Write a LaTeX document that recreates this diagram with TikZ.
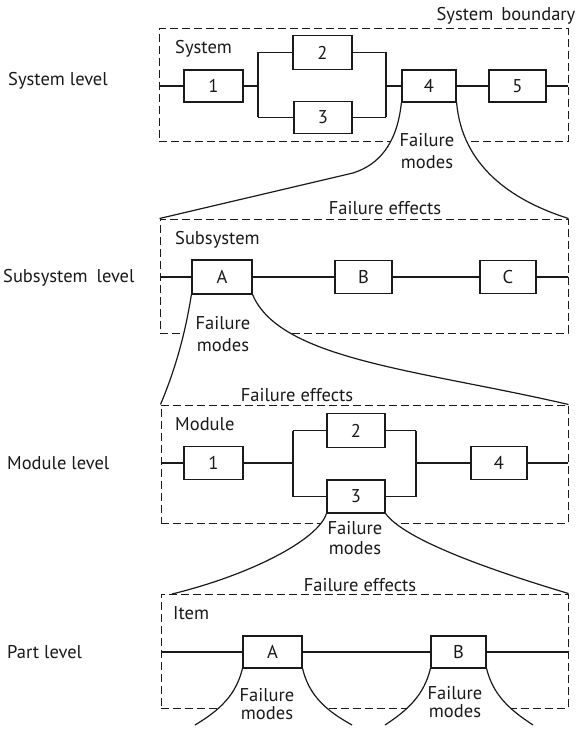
\documentclass[tikz,border=0pt]{standalone}
\usepackage{fontspec}
\setmainfont{PT Sans}
\newcommand\lblfont{\fontsize{18.5}{21}\selectfont}
\definecolor{ink}{HTML}{1A1A1A}
\begin{document}
\begin{tikzpicture}[x=1pt,y=-1pt,
  wire/.style={draw=ink,line width=1.2pt},
  blk/.style={draw=ink,line width=1.2pt,fill=white,inner sep=0pt,font=\lblfont,text=ink},
  bnd/.style={draw=ink,line width=1pt,dash pattern=on 8pt off 4pt,inner sep=0pt},
  lbl/.style={inner sep=0pt,font=\lblfont,text=ink},
  fm/.style={lbl,align=center},
  crv/.style={draw=ink,line width=1.2pt}]
\useasboundingbox (0,0) rectangle (585,738);
\fill[white] (0,0) rectangle (585,738);

% ---------- boundaries ----------
\node[bnd,minimum width=409pt,minimum height=113pt] (sysB) at (363.5,85.5) {};
\node[bnd,minimum width=408pt,minimum height=114pt] (subB) at (364,276) {};
\node[bnd,minimum width=407pt,minimum height=118pt] (modB) at (364.5,464) {};
\node[bnd,minimum width=407pt,minimum height=114pt] (partB) at (364.5,651) {};

% ---------- system level ----------
\node[blk,minimum width=59pt,minimum height=32pt] (b1) at (213.5,86) {1};
\node[blk,minimum width=59pt,minimum height=34pt] (b2) at (322.5,52.5) {2};
\node[blk,minimum width=58pt,minimum height=32pt] (b3) at (323,117.5) {3};
\node[blk,minimum width=54pt,minimum height=32pt] (b4) at (429,86) {4};
\node[blk,minimum width=57pt,minimum height=32pt] (b5) at (517.5,86) {5};
\coordinate (sL) at (159,86);
\coordinate (sR) at (568,86);
\coordinate (sjl) at (258,86);
\coordinate (sja) at (258,52.5);
\coordinate (sjb) at (258,117.5);
\coordinate (sjr) at (386,86);
\coordinate (sjc) at (386,52.5);
\coordinate (sjd) at (386,117.5);
\draw[wire] (sL) -- (b1);
\draw[wire] (b1) -- (sjl);
\draw[wire] (sja) -- (sjb);
\draw[wire] (sja) -- (b2);
\draw[wire] (sjb) -- (b3);
\draw[wire] (b2) -- (sjc);
\draw[wire] (b3) -- (sjd);
\draw[wire] (sjc) -- (sjd);
\draw[wire] (sjr) -- (b4);
\draw[wire] (b4) -- (b5);
\draw[wire] (b5) -- (sR);

% ---------- subsystem level ----------
\node[blk,minimum width=60pt,minimum height=34pt] (bA) at (222,277) {A};
\node[blk,minimum width=57pt,minimum height=33pt] (bB) at (363.5,277) {B};
\node[blk,minimum width=56pt,minimum height=33pt] (bC) at (508,277) {C};
\coordinate (uL) at (160,277);
\coordinate (uR) at (568,277);
\draw[wire] (uL) -- (bA);
\draw[wire] (bA) -- (bB);
\draw[wire] (bB) -- (bC);
\draw[wire] (bC) -- (uR);

% ---------- module level ----------
\node[blk,minimum width=59pt,minimum height=33pt] (m1) at (213.5,463) {1};
\node[blk,minimum width=58pt,minimum height=34pt] (m2) at (356,430.5) {2};
\node[blk,minimum width=58pt,minimum height=33pt] (m3) at (356,496.5) {3};
\node[blk,minimum width=56pt,minimum height=33pt] (m4) at (499,463) {4};
\coordinate (mL) at (161,463);
\coordinate (mR) at (568,463);
\coordinate (mjl) at (293,463);
\coordinate (mja) at (293,430.5);
\coordinate (mjb) at (293,496.5);
\coordinate (mjr) at (416,463);
\coordinate (mjc) at (416,430.5);
\coordinate (mjd) at (416,496.5);
\draw[wire] (mL) -- (m1);
\draw[wire] (m1) -- (mjl);
\draw[wire] (mja) -- (mjb);
\draw[wire] (mja) -- (m2);
\draw[wire] (mjb) -- (m3);
\draw[wire] (m2) -- (mjc);
\draw[wire] (m3) -- (mjd);
\draw[wire] (mjc) -- (mjd);
\draw[wire] (mjr) -- (m4);
\draw[wire] (m4) -- (mR);

% ---------- part level ----------
\node[blk,minimum width=59pt,minimum height=32pt] (pA) at (272.5,652) {A};
\node[blk,minimum width=55pt,minimum height=32pt] (pB) at (458.5,652) {B};
\coordinate (pL) at (162,652);
\coordinate (pR) at (568,652);
\draw[wire] (pL) -- (pA);
\draw[wire] (pA) -- (pB);
\draw[wire] (pB) -- (pR);
\coordinate (pAl) at (195,725);
\coordinate (pAr) at (352,725);
\coordinate (pBl) at (385,725);
\coordinate (pBr) at (533,725);
\coordinate (sysK) at (353,173);
\coordinate (partNW) at (172,594);

% ---------- mask dashed lines inside funnels ----------
\begin{scope}
\clip (0,136) rectangle (585,148);
\fill[white] (b4.south west) .. controls (397,145) and (378,165) .. (sysK) -- (subB.north east) .. controls (510,200) and (462,165) .. (b4.south east) -- cycle;
\end{scope}
\begin{scope}
\clip (0,327) rectangle (585,339);
\fill[white] (bA.south west) .. controls (185,335) and (175,370) .. (modB.north west) -- (modB.north east) .. controls (420,370) and (280,360) .. (bA.south east) -- cycle;
\end{scope}
\begin{scope}
\clip (0,517) rectangle (585,529);
\fill[white] (m3.south west) .. controls (318,540) and (250,575) .. (partNW) -- (partB.north east) .. controls (490,570) and (405,540) .. (m3.south east) -- cycle;
\end{scope}
\begin{scope}
\clip (0,702) rectangle (585,714);
\fill[white] (pA.south west) .. controls (236,695) and (220,710) .. (pAl) -- (pAr) .. controls (325,710) and (309,695) .. (pA.south east) -- cycle;
\fill[white] (pB.south west) .. controls (424,695) and (408,710) .. (pBl) -- (pBr) .. controls (510,710) and (493,695) .. (pB.south east) -- cycle;
\end{scope}

% ---------- funnel curves ----------
\draw[crv] (b4.south west) .. controls (397,145) and (378,165) .. (sysK) -- (subB.north west);
\draw[crv] (b4.south east) .. controls (462,165) and (510,200) .. (subB.north east);
\draw[crv] (bA.south west) .. controls (185,335) and (175,370) .. (modB.north west);
\draw[crv] (bA.south east) .. controls (280,360) and (420,370) .. (modB.north east);
\draw[crv] (m3.south west) .. controls (318,540) and (250,575) .. (partNW);
\draw[crv] (m3.south east) .. controls (405,540) and (490,570) .. (partB.north east);
\draw[crv] (pA.south west) .. controls (236,695) and (220,710) .. (pAl);
\draw[crv] (pA.south east) .. controls (309,695) and (325,710) .. (pAr);
\draw[crv] (pB.south west) .. controls (424,695) and (408,710) .. (pBl);
\draw[crv] (pB.south east) .. controls (493,695) and (510,710) .. (pBr);

% ---------- texts ----------
\node[lbl,anchor=base] (tbound) at (506,21) {System\hspace{3pt} boundary};
\node[lbl,anchor=base west] (tsys) at (175,54) {System};
\node[lbl,anchor=base west] (tsub) at (175,244) {Subsystem};
\node[lbl,anchor=base west] (tmod) at (175,430) {Module};
\node[lbl,anchor=base west] (titem) at (173,619) {Item};

\node[lbl,anchor=base west] (lsys) at (8,86) {System level};
\node[lbl,anchor=base west] (lsub) at (3,282) {Subsystem\hspace{4pt} level};
\node[lbl,anchor=base west] (lmod) at (7,469) {Module level};
\node[lbl,anchor=base west] (lpart) at (7,658) {Part level};

\node[lbl,anchor=base] (fe1) at (385,214) {Failure effects};
\node[lbl,anchor=base] (fe2) at (297,401) {Failure effects};
\node[lbl,anchor=base] (fe3) at (360,591) {Failure effects};

\node[fm] (fm1) at (427,151) {Failure\\[1pt]modes};
\node[fm] (fm2) at (223,334) {Failure\\[1pt]modes};
\node[fm] (fm3) at (355,538) {Failure\\[-1pt]modes};
\node[fm] (fm4) at (267,704) {Failure\\[-3pt]modes};
\node[fm] (fm5) at (455,702.5) {Failure\\[-3pt]modes};
\end{tikzpicture}
\end{document}
